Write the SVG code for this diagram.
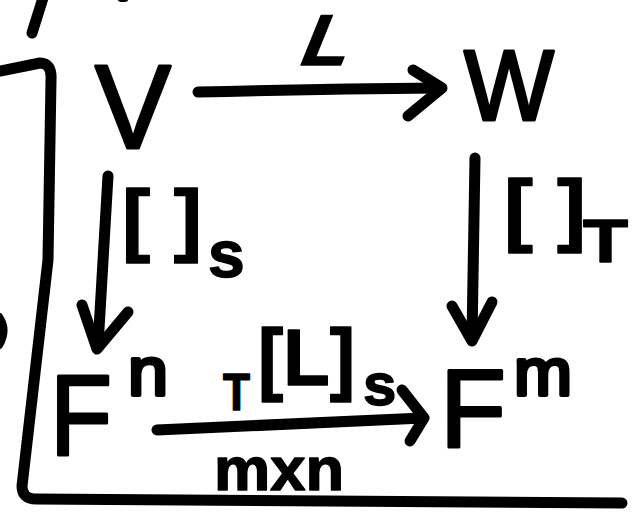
<svg xmlns="http://www.w3.org/2000/svg" width="642" height="513" viewBox="0 0 642 513">
<style>
.ink{fill:none;stroke:#000;stroke-width:11;stroke-linecap:round;stroke-linejoin:round}
.big{font-family:"Liberation Sans",Arial,sans-serif;font-weight:normal;fill:#000;stroke:#000;stroke-width:3;stroke-linejoin:round}
.lbl{font-family:"Liberation Sans",Arial,sans-serif;font-weight:bold;fill:#000;stroke:#000;stroke-width:1.5;stroke-linejoin:round}
</style>
<rect width="642" height="513" fill="#fff"/>
<g id="frame">
<path class="ink" d="M43,-2 L32,33"/>
<path class="ink" stroke-width="13" d="M0,71 L40,63 Q52,63 51,80 L48,260 L22,486 Q22,499 36,499 L622,503"/>
<path class="ink" stroke-width="9" d="M-2,318 Q6,330 -2,344"/>
<ellipse cx="123" cy="0" rx="5" ry="2" fill="#000"/>
</g>
<g id="connectors">
<g id="edge-L">
<path class="ink" d="M198,92 Q320,89 440,88"/>
<path class="ink" d="M413,70 L442,88 L408,116"/>
<text class="lbl" transform="translate(296,65) skewX(-22)" x="0" y="0" font-size="72" stroke-width="2" textLength="47" lengthAdjust="spacingAndGlyphs">L</text>
</g>
<g id="edge-S">
<path class="ink" d="M108,176 L98,346"/>
<path class="ink" d="M82,305 L97,349 L128,312"/>
<text class="lbl" font-size="80"><tspan x="122" y="246" textLength="80" lengthAdjust="spacingAndGlyphs">[ ]</tspan><tspan x="208" y="277" font-size="66">s</tspan></text>
</g>
<g id="edge-T">
<path class="ink" d="M475,158 L472,338"/>
<path class="ink" d="M452,306 L472,341 L492,302"/>
<text class="lbl" font-size="80"><tspan x="504" y="236" textLength="82" lengthAdjust="spacingAndGlyphs">[ ]</tspan><tspan x="583" y="262" font-size="62" textLength="45" lengthAdjust="spacingAndGlyphs">T</tspan></text>
</g>
<g id="edge-M">
<path class="ink" d="M157,430 Q290,424 423,418"/>
<path class="ink" d="M402,390 L424,418 L410,441"/>
<text class="lbl" font-size="80"><tspan x="223" y="410" font-size="52" textLength="27" lengthAdjust="spacingAndGlyphs">T</tspan><tspan x="258" y="385" textLength="97" lengthAdjust="spacingAndGlyphs">[L]</tspan><tspan x="363" y="405" font-size="60">s</tspan></text>
<text class="lbl" x="214" y="490" font-size="62" textLength="130" lengthAdjust="spacingAndGlyphs">mxn</text>
</g>
</g>
<g id="V"><text class="big" x="95" y="148" font-size="118" textLength="76" lengthAdjust="spacingAndGlyphs">V</text></g>
<g id="W"><text class="big" x="464" y="120" font-size="100" textLength="90" lengthAdjust="spacingAndGlyphs">W</text></g>
<g id="Fn"><text class="big" font-size="115"><tspan x="50" y="455" textLength="62" lengthAdjust="spacingAndGlyphs">F</tspan><tspan x="128" y="395" font-size="68" stroke-width="4" textLength="40" lengthAdjust="spacingAndGlyphs">n</tspan></text></g>
<g id="Fm"><text class="big" font-size="112"><tspan x="440" y="447" textLength="66" lengthAdjust="spacingAndGlyphs">F</tspan><tspan x="514" y="395" font-size="66" stroke-width="4" textLength="58" lengthAdjust="spacingAndGlyphs">m</tspan></text></g>
</svg>
